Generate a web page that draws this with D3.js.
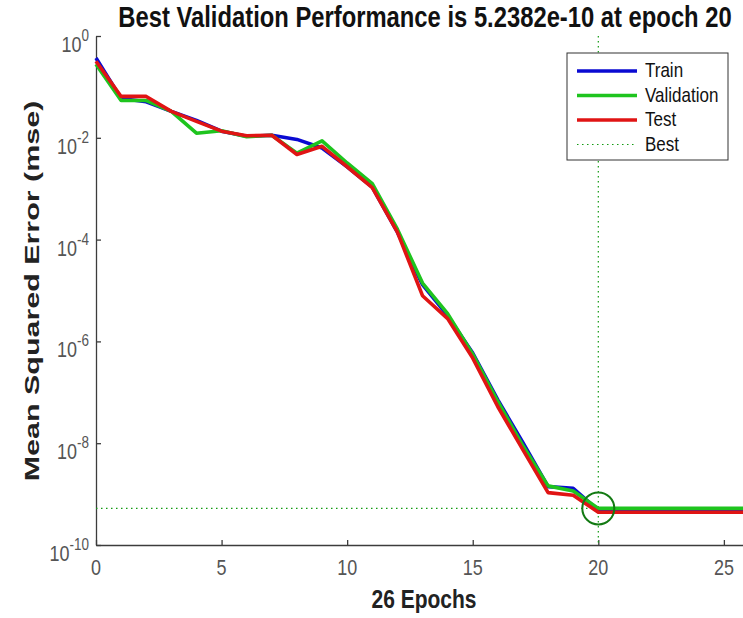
<!DOCTYPE html>
<html>
<head>
<meta charset="utf-8">
<script src="https://cdnjs.cloudflare.com/ajax/libs/d3/7.8.5/d3.min.js"></script>
<style>
  body { margin: 0; background: #fff; }
  svg { display: block; }
  text { font-family: "Liberation Sans", Arial, Helvetica, sans-serif; }
</style>
</head>
<body>
<svg id="chart" width="743" height="618"></svg>
<script>
// performance per epoch (mse)
var epochs = d3.range(0, 27);
var train = [0.37, 0.059, 0.051, 0.033, 0.022, 0.0135, 0.0107, 0.0112, 0.0093, 0.0063,
  0.0027, 0.00107, 1.4e-4, 1.3e-5, 3.2e-6, 5.9e-7, 7.1e-8, 1.02e-8, 1.4e-9, 1.3e-9,
  4.8e-10, 4.8e-10, 4.8e-10, 4.8e-10, 4.8e-10, 4.8e-10, 4.8e-10];
var validation = [0.28, 0.054, 0.054, 0.033, 0.0123, 0.0138, 0.0105, 0.0112, 0.005, 0.0087,
  0.0032, 0.00126, 1.6e-4, 1.4e-5, 3.5e-6, 5.6e-7, 6.6e-8, 8.9e-9, 1.45e-9, 1.15e-9,
  5.2382e-10, 5.2382e-10, 5.2382e-10, 5.2382e-10, 5.2382e-10, 5.2382e-10, 5.2382e-10];
var test = [0.32, 0.065, 0.065, 0.033, 0.021, 0.0135, 0.011, 0.0112, 0.0047, 0.0068,
  0.0027, 0.00105, 1.4e-4, 7.9e-6, 2.8e-6, 4.7e-7, 5.2e-8, 7.4e-9, 1.07e-9, 9.5e-10,
  4.4e-10, 4.4e-10, 4.4e-10, 4.4e-10, 4.4e-10, 4.4e-10, 4.4e-10];
var bestEpoch = 20;
var bestPerf = 5.2382e-10;
var xTicks = [0, 5, 10, 15, 20, 25];
var yTickExps = [0, -2, -4, -6, -8, -10];
var seriesNames = ['Train', 'Validation', 'Test'];
var legendLabels = ['Train', 'Validation', 'Test', 'Best'];

var colors = { Train: '#0a0ad2', Validation: '#1ec41e', Test: '#e01414' };
var bestColor = '#119a11';
var axisColor = '#3c3c3c';
var tickColor = '#555';
var sy = 1.22; // text in the picture is stretched vertically

var svg = d3.select('#chart');

var x = d3.scaleLinear().domain([0, 26]).range([96, 749]);
var y = d3.scaleLog().domain([1e-10, 1]).range([545, 36]);

// stretched text helper
function label(g, tx, ty, str, size, weight, anchor, color, rot, sx) {
  var t = g.append('text')
    .attr('transform', 'translate(' + tx + ',' + ty + ')' + (rot ? ' rotate(' + rot + ')' : '') +
      ' scale(' + (sx || 1) + ',' + (rot ? 1 : sy) + ')')
    .attr('text-anchor', anchor || 'middle')
    .attr('font-size', size)
    .attr('font-weight', weight || 'normal')
    .attr('fill', color || '#000');
  if (str !== null) t.text(str);
  return t;
}

// axes: lines + inward ticks, labels drawn separately
var xAxis = svg.append('g')
  .attr('transform', 'translate(0,' + y(1e-10) + ')')
  .call(d3.axisBottom(x).tickValues(xTicks).tickSizeInner(-5).tickSizeOuter(0).tickFormat(''));
var yAxis = svg.append('g')
  .attr('transform', 'translate(' + x(0) + ',0)')
  .call(d3.axisLeft(y).tickValues(yTickExps.map(function (e) { return Math.pow(10, e); }))
    .tickSizeInner(-5).tickSizeOuter(0).tickFormat(''));
[xAxis, yAxis].forEach(function (a) {
  a.select('.domain').attr('stroke', axisColor).attr('stroke-width', 1.3);
  a.selectAll('.tick line').attr('stroke', axisColor).attr('stroke-width', 1.3);
});

xTicks.forEach(function (d) {
  label(svg, x(d), y(1e-10) + 30, String(d), 18, 'normal', 'middle', tickColor);
});
yTickExps.forEach(function (e) {
  var t = label(svg, 89, y(Math.pow(10, e)) + 16, null, 18, 'normal', 'end', tickColor);
  t.append('tspan').text('10');
  t.append('tspan').attr('dy', -9).attr('font-size', 13.5).text(String(e));
});

// best markers
svg.append('line')
  .attr('x1', x(bestEpoch)).attr('x2', x(bestEpoch))
  .attr('y1', y(1)).attr('y2', y(1e-10))
  .attr('stroke', bestColor).attr('stroke-width', 1.2).attr('stroke-dasharray', '1.5,3.5');
svg.append('line')
  .attr('x1', x(0)).attr('x2', x(26))
  .attr('y1', y(bestPerf)).attr('y2', y(bestPerf))
  .attr('stroke', bestColor).attr('stroke-width', 1.2).attr('stroke-dasharray', '1.5,3.5');

// curves
var line = d3.line()
  .x(function (d) { return x(d[0]); })
  .y(function (d) { return y(d[1]); });
var seriesData = { Train: train, Validation: validation, Test: test };
seriesNames.forEach(function (name) {
  svg.append('path')
    .datum(epochs.map(function (e, i) { return [e, seriesData[name][i]]; }))
    .attr('fill', 'none')
    .attr('stroke', colors[name])
    .attr('stroke-width', 3.6)
    .attr('stroke-linejoin', 'round')
    .attr('d', line);
});

svg.append('circle')
  .attr('cx', x(bestEpoch)).attr('cy', y(bestPerf)).attr('r', 16)
  .attr('fill', 'none').attr('stroke', '#137a13').attr('stroke-width', 2);

// title and axis labels
label(svg, 425, 27, 'Best Validation Performance is 5.2382e-10 at epoch 20', 23.8, 'bold', 'middle', '#111');
label(svg, 424, 608, '26 Epochs', 21, 'bold', 'middle', '#222');
label(svg, 39, 291, 'Mean Squared Error  (mse)', 21, 'bold', 'middle', '#222', -90, 1.45);

// legend
var lg = svg.append('g');
lg.append('rect').attr('x', 567).attr('y', 53).attr('width', 161).attr('height', 107)
  .attr('fill', '#fff').attr('stroke', '#333').attr('stroke-width', 1);
legendLabels.forEach(function (name, i) {
  var ly = 71 + i * 24.5;
  var l = lg.append('line').attr('x1', 577).attr('x2', 637).attr('y1', ly).attr('y2', ly);
  if (name === 'Best') {
    l.attr('stroke', bestColor).attr('stroke-width', 1.2).attr('stroke-dasharray', '1.5,3.5');
  } else {
    l.attr('stroke', colors[name]).attr('stroke-width', 3.6);
  }
  label(lg, 645, ly + 6, name, 17, 'normal', 'start', '#111');
});
</script>
</body>
</html>
